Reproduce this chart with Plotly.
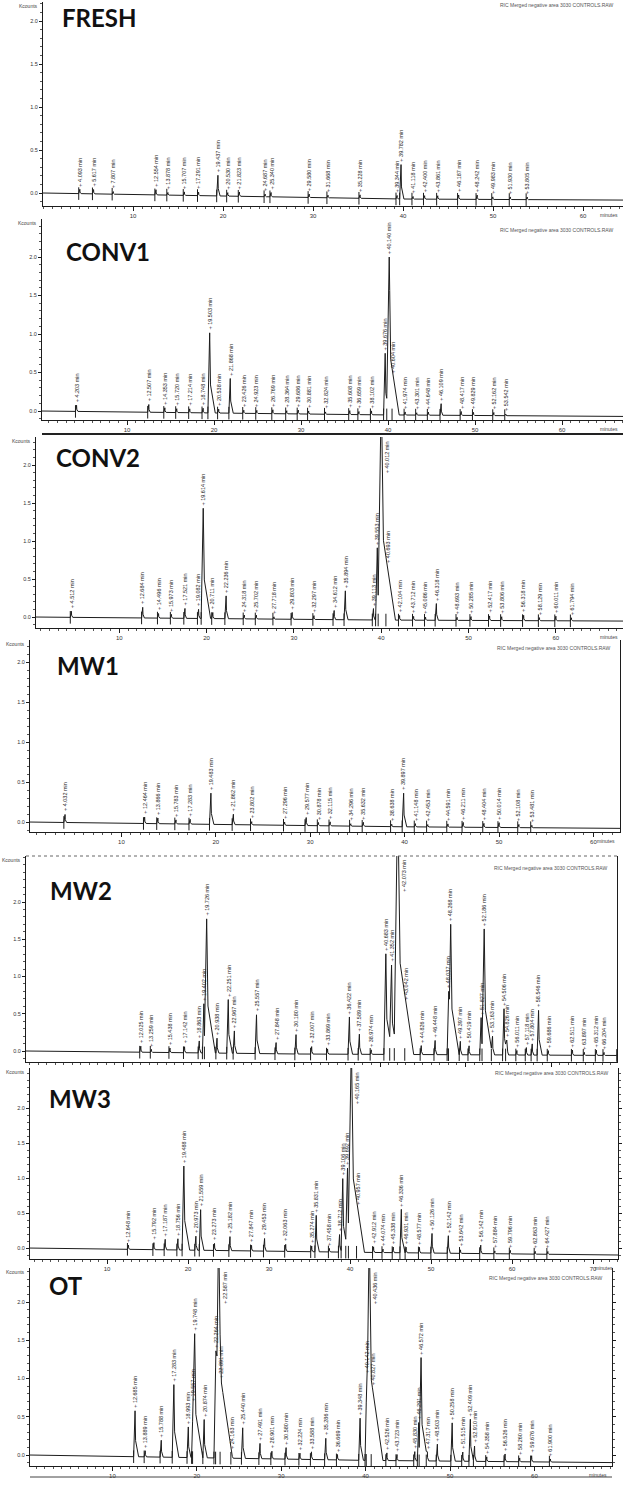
import numpy as np
import plotly.graph_objects as go

W, H = 623, 1488

# ---------------- data (retention time in minutes, peak height in kcounts above baseline) ----------------
panel_names = ["FRESH", "CONV1", "CONV2", "MW1", "MW2", "MW3", "OT"]

fresh_rt = [4.093, 5.617, 7.807, 12.554, 13.878, 15.707, 17.291, 19.437, 20.530, 21.823, 24.687, 25.340,
            29.580, 31.668, 35.228, 39.344, 39.782, 41.118, 42.400, 43.861, 46.187, 48.242, 49.983, 51.930, 53.805]
fresh_h = [0.05, 0.05, 0.03, 0.06, 0.03, 0.04, 0.04, 0.24, 0.04, 0.05, 0.03, 0.05,
           0.04, 0.03, 0.04, 0.04, 0.40, 0.03, 0.04, 0.04, 0.05, 0.05, 0.03, 0.03, 0.03]
fresh_base_t = [0, 40, 80]
fresh_base_v = [0.0, -0.07, -0.09]

conv1_rt = [4.203, 12.507, 14.353, 15.720, 17.214, 18.748, 19.503, 20.538, 21.868, 23.426, 24.923, 26.769,
            28.364, 29.686, 30.881, 32.824, 35.608, 36.659, 38.102, 39.676, 40.140, 40.604, 41.974, 43.301,
            44.648, 46.109, 48.417, 49.829, 52.162, 53.542]
conv1_h = [0.08, 0.10, 0.06, 0.05, 0.05, 0.06, 1.04, 0.05, 0.45, 0.04, 0.04, 0.05,
           0.04, 0.05, 0.04, 0.03, 0.05, 0.04, 0.05, 0.80, 2.05, 0.25, 0.04, 0.03,
           0.04, 0.15, 0.05, 0.04, 0.04, 0.02]
conv1_base_t = [0, 39, 80]
conv1_base_v = [0.0, -0.05, -0.08]

conv2_rt = [4.512, 12.684, 14.496, 15.973, 17.521, 19.082, 19.614, 20.711, 22.236, 24.318, 25.702, 27.718,
            29.803, 32.297, 34.612, 35.894, 39.113, 39.553, 40.012, 40.693, 42.104, 43.712, 45.086, 46.318,
            48.693, 50.285, 52.417, 53.806, 56.318, 58.129, 60.011, 61.794]
conv2_h = [0.08, 0.14, 0.06, 0.05, 0.13, 0.12, 1.45, 0.08, 0.30, 0.05, 0.05, 0.03,
           0.09, 0.05, 0.12, 0.38, 0.15, 0.95, 3.00, 0.40, 0.06, 0.05, 0.04, 0.22,
           0.04, 0.05, 0.06, 0.05, 0.07, 0.04, 0.06, 0.04]
conv2_base_t = [0, 40, 81]
conv2_base_v = [0.0, -0.04, -0.06]

mw1_rt = [4.032, 12.464, 13.866, 15.783, 17.283, 19.483, 21.862, 23.802, 27.296, 29.577, 30.878, 32.115,
          34.296, 35.632, 38.638, 39.897, 41.148, 42.453, 44.591, 46.211, 48.404, 50.014, 52.108, 53.481]
mw1_h = [0.10, 0.08, 0.07, 0.05, 0.06, 0.39, 0.13, 0.04, 0.04, 0.10, 0.04, 0.05,
         0.03, 0.05, 0.03, 0.42, 0.04, 0.03, 0.04, 0.06, 0.05, 0.06, 0.04, 0.03]
mw1_base_t = [0, 40, 75]
mw1_base_v = [0.0, -0.06, -0.09]

mw2_rt = [12.025, 13.259, 15.438, 17.142, 18.863, 19.402, 19.726, 20.938, 22.251, 22.967, 25.557, 27.848,
          30.180, 32.007, 33.869, 36.422, 37.589, 38.974, 40.683, 41.352, 42.073, 43.042, 44.826, 46.448,
          48.037, 48.268, 49.397, 50.419, 51.827, 52.186, 53.163, 54.506, 54.826, 56.011, 57.118, 57.804,
          58.546, 59.686, 62.511, 63.897, 65.312, 66.204, 67.812]
mw2_h = [0.08, 0.04, 0.06, 0.08, 0.16, 0.66, 1.80, 0.20, 0.72, 0.30, 0.52, 0.15,
         0.26, 0.10, 0.07, 0.50, 0.27, 0.06, 1.35, 1.20, 3.50, 0.32, 0.12, 0.19,
         0.85, 1.75, 0.18, 0.12, 0.50, 1.69, 0.25, 0.62, 0.20, 0.06, 0.10, 0.15,
         0.60, 0.06, 0.07, 0.04, 0.07, 0.04, 0.05]
mw2_base_t = [0, 30, 68]
mw2_base_v = [0.0, -0.04, -0.06]

mw3_rt = [12.648, 15.792, 17.187, 18.756, 19.488, 20.973, 21.559, 23.273, 25.182, 27.847, 29.453, 32.063,
          35.274, 35.831, 37.458, 38.712, 39.106, 39.692, 40.165, 40.957, 42.912, 44.074, 45.338, 46.336,
          46.931, 48.577, 50.126, 52.142, 53.642, 56.142, 57.884, 59.796, 62.863, 64.427]
mw3_h = [0.06, 0.10, 0.15, 0.16, 1.20, 0.20, 0.58, 0.10, 0.20, 0.08, 0.18, 0.10,
         0.08, 0.52, 0.05, 0.25, 1.05, 1.20, 3.00, 0.37, 0.08, 0.05, 0.08, 0.62,
         0.08, 0.08, 0.28, 0.25, 0.05, 0.12, 0.04, 0.05, 0.04, 0.04]
mw3_base_t = [0, 40, 73]
mw3_base_v = [0.0, -0.06, -0.10]

ot_rt = [12.685, 13.889, 15.788, 17.283, 18.993, 19.557, 19.748, 20.874, 22.264, 22.587, 22.891, 24.163,
         25.440, 27.491, 28.901, 30.580, 32.224, 33.588, 35.286, 36.669, 39.348, 40.142, 40.436, 40.827,
         42.526, 43.723, 45.830, 46.291, 46.572, 47.317, 48.503, 50.258, 51.515, 52.409, 52.910, 54.358,
         56.526, 58.260, 59.676, 61.900]
ot_h = [0.60, 0.08, 0.22, 0.95, 0.40, 0.70, 1.62, 0.50, 1.40, 3.00, 0.15, 0.08,
        0.40, 0.20, 0.10, 0.15, 0.08, 0.10, 0.28, 0.07, 0.55, 1.10, 3.00, 0.55,
        0.10, 0.08, 0.12, 0.50, 1.35, 0.12, 0.22, 0.50, 0.12, 0.55, 0.20, 0.06,
        0.10, 0.05, 0.08, 0.04]
ot_base_t = [0, 40, 70]
ot_base_v = [0.0, -0.07, -0.10]

x_tick_vals = [10, 20, 30, 40, 50, 60, 70]
y_tick_vals = [0.0, 0.5, 1.0, 1.5, 2.0]
y_tick_text = ["0.0", "0.5", "1.0", "1.5", "2.0"]
header_text = "RIC Merged negative area 3030 CONTROLS.RAW"

data = [
    (fresh_rt, fresh_h, fresh_base_t, fresh_base_v),
    (conv1_rt, conv1_h, conv1_base_t, conv1_base_v),
    (conv2_rt, conv2_h, conv2_base_t, conv2_base_v),
    (mw1_rt, mw1_h, mw1_base_t, mw1_base_v),
    (mw2_rt, mw2_h, mw2_base_t, mw2_base_v),
    (mw3_rt, mw3_h, mw3_base_t, mw3_base_v),
    (ot_rt, ot_h, ot_base_t, ot_base_v),
]

# ---------------- layout geometry (pixels) ----------------
geom = [
    dict(L=43, R=623, X0=43, S=9.00, T=2, B=206, Y0=193, U=86.0, tx=60, ty=17, hdr=5, xl=True, mir=False),
    dict(L=42, R=623, X0=40, S=8.70, T=219, B=420, Y0=411, U=77.0, tx=64, ty=251, hdr=230, xl=True, mir=False),
    dict(L=36, R=623, X0=32, S=8.73, T=437, B=628, Y0=617, U=76.0, tx=54, ty=457, hdr=None, xl=True, mir=False),
    dict(L=30, R=620, X0=27, S=9.44, T=640, B=832, Y0=822, U=80.0, tx=55, ty=666, hdr=648, xl=True, mir=True),
    dict(L=26, R=617, X0=38, S=8.55, T=856, B=1062, Y0=1051, U=74.5, tx=48, ty=890, hdr=868, xl=False, mir=True),
    dict(L=30, R=618, X0=26, S=8.10, T=1068, B=1259, Y0=1248, U=70.0, tx=47, ty=1098, hdr=1073, xl=True, mir="ticks"),
    dict(L=30, R=612, X0=28, S=8.44, T=1268, B=1466, Y0=1455, U=76.5, tx=47, ty=1285, hdr=1278, xl=True, mir="ticks"),
]

INK = "#1c1c1c"
fig = go.Figure()
annotations = []
shapes = []
layout = {}


def build(rt, h, bt, bv, xlo, xhi):
    parts = []
    verts = [xlo, xhi]
    starts = []
    for t, a in zip(rt, h):
        wl = 0.12 + 0.08 * a
        wr = 0.12 + 0.5 * a
        px = [t - wl, t, t + 0.15 * wr, t + wr]
        py = [0.0, a, 0.35 * a, 0.0]
        parts.append((px, py))
        verts += px
        starts.append(t - wl)
    xs = np.unique(np.array(verts, dtype=float))
    xs = xs[(xs >= xlo) & (xs <= xhi)]
    env = np.zeros_like(xs)
    for px, py in parts:
        env = np.maximum(env, np.interp(xs, px, py, left=0.0, right=0.0))
    ys = env + np.interp(xs, bt, bv)
    return xs, ys, np.array(starts)


for k, (name, (rt, h, bt, bv), g) in enumerate(zip(panel_names, data, geom), start=1):
    sfx = "" if k == 1 else str(k)
    xr = [(g["L"] - g["X0"]) / g["S"], (g["R"] - g["X0"]) / g["S"]]
    yr = [(g["Y0"] - g["B"]) / g["U"], (g["Y0"] - g["T"]) / g["U"]]
    xs, ys, starts = build(rt, h, bt, bv, xr[0], xr[1])

    fig.add_trace(go.Scatter(x=xs, y=ys, mode="lines", line=dict(color=INK, width=1),
                             xaxis="x" + sfx, yaxis="y" + sfx, showlegend=False, hoverinfo="skip"))
    fig.add_trace(go.Scatter(x=starts, y=np.interp(starts, bt, bv), mode="markers",
                             marker=dict(symbol="line-ns", size=9, line=dict(color=INK, width=1)),
                             xaxis="x" + sfx, yaxis="y" + sfx, showlegend=False, hoverinfo="skip"))

    layout["xaxis" + sfx] = dict(
        domain=[g["L"] / W, g["R"] / W], range=xr, anchor="y" + sfx,
        showgrid=False, zeroline=False, showline=True, linecolor=INK, linewidth=1,
        tickmode="array", tickvals=x_tick_vals, ticktext=[str(v) for v in x_tick_vals],
        ticks="outside", ticklen=4, tickcolor=INK, showticklabels=g["xl"],
        tickfont=dict(size=6, color="#333", family="Liberation Sans"),
        minor=dict(dtick=1, ticks="outside", ticklen=2, tickcolor="#555"),
    )
    layout["yaxis" + sfx] = dict(
        domain=[1 - g["B"] / H, 1 - g["T"] / H], range=yr, anchor="x" + sfx,
        showgrid=False, zeroline=False, showline=True, linecolor=INK, linewidth=1,
        mirror=g["mir"],
        tickmode="array", tickvals=y_tick_vals, ticktext=y_tick_text,
        ticks="outside", ticklen=3, tickcolor=INK,
        tickfont=dict(size=5.5, color="#333", family="Liberation Sans"),
        minor=dict(dtick=0.1, ticks="outside", ticklen=2, tickcolor="#555"),
    )

    # peak labels
    for t in rt:
        ly = float(np.interp(t, xs, ys))
        apex_px = g["Y0"] - ly * g["U"]
        txt = f"+ {t:.3f} min"
        if apex_px - 38 < g["T"]:
            annotations.append(dict(x=t, y=yr[1], xref="x" + sfx, yref="y" + sfx, text=txt,
                                    textangle=-90, showarrow=False, xanchor="left", yanchor="top",
                                    xshift=1, yshift=-2,
                                    font=dict(size=5.5, color="#222", family="Liberation Sans")))
        else:
            annotations.append(dict(x=t, y=ly, xref="x" + sfx, yref="y" + sfx, text=txt,
                                    textangle=-90, showarrow=False, xanchor="center", yanchor="bottom",
                                    yshift=1, font=dict(size=5.5, color="#222", family="Liberation Sans")))

    # panel title
    annotations.append(dict(x=g["tx"] / W, y=1 - g["ty"] / H, xref="paper", yref="paper",
                            text=f"<b>{name}</b>", showarrow=False, xanchor="left", yanchor="middle",
                            font=dict(size=24, color="#111", family="Lato")))
    # header
    if g["hdr"] is not None:
        annotations.append(dict(x=(g["R"] - 8) / W, y=1 - g["hdr"] / H, xref="paper", yref="paper",
                                text=header_text, showarrow=False, xanchor="right", yanchor="middle",
                                font=dict(size=5, color="#555", family="Liberation Sans")))
    # axis unit labels
    annotations.append(dict(x=(g["L"] - 3) / W, y=1 - (g["T"] + 4) / H, xref="paper", yref="paper",
                            text="Kcounts", showarrow=False, xanchor="right", yanchor="middle",
                            font=dict(size=5, color="#444", family="Liberation Sans")))
    if g["xl"]:
        annotations.append(dict(x=(g["R"] - 3) / W, y=1 - (g["B"] + 9) / H, xref="paper", yref="paper",
                                text="minutes", showarrow=False, xanchor="right", yanchor="middle",
                                font=dict(size=5, color="#444", family="Liberation Sans")))

# scanned frame lines
shapes.append(dict(type="line", xref="paper", yref="paper", x0=42 / W, x1=1, y0=1 - 434 / H, y1=1 - 434 / H,
                   line=dict(color="#222", width=2)))
shapes.append(dict(type="line", xref="paper", yref="paper", x0=30 / W, x1=612 / W, y0=1 - 1477 / H,
                   y1=1 - 1477 / H, line=dict(color="#444", width=1)))
shapes.append(dict(type="line", xref="paper", yref="paper", x0=26 / W, x1=617 / W, y0=1 - 856 / H,
                   y1=1 - 856 / H, line=dict(color="#666", width=1, dash="dot")))

fig.update_layout(
    width=W, height=H, margin=dict(l=0, r=0, t=0, b=0),
    paper_bgcolor="white", plot_bgcolor="white",
    showlegend=False, annotations=annotations, shapes=shapes,
    font=dict(family="Liberation Sans", color="#222"),
    hovermode=False,
    **layout,
)

fig.write_html("out.html", config={"displayModeBar": False, "staticPlot": True},
               post_script="document.body.style.margin='0px';document.body.style.overflow='hidden';")
